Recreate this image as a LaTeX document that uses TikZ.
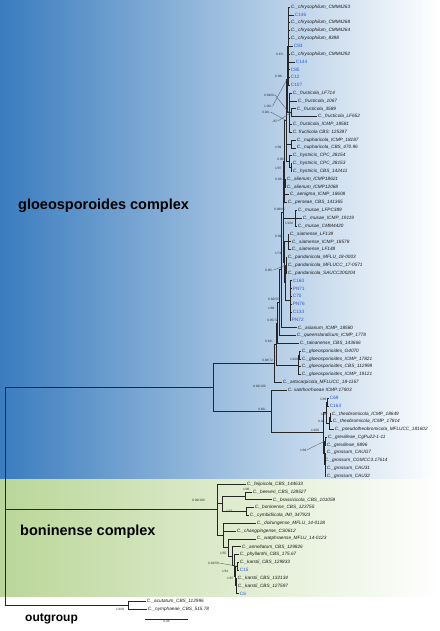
\documentclass[tikz,border=0pt]{standalone}
\usepackage{fontspec}
\setmainfont{Liberation Sans}
\usetikzlibrary{calc}
\definecolor{bluebg}{RGB}{58,124,190}
\definecolor{greenbg}{RGB}{186,214,152}
\definecolor{bluelab}{RGB}{40,90,205}
\newcommand\lf[4]{\node[#4] (l#1) at (#2,{7+7.82*(#1-1)}) {#3};}
\newcommand\inode[4]{\path let \p1=($(#3)!0.5!(#4)$) in coordinate (#1) at (#2pt,\y1);}
\newcommand\tbr[2]{\draw[branch] (#1) |- (#2);}
\newcommand\spt[4]{\node[supp] (#1) at (#2,#3) {#4};}
\begin{document}
\begin{tikzpicture}[x=1pt,y=-1pt,
  lab/.style={anchor=west,inner sep=0.7pt,font=\fontsize{4.7}{5}\selectfont\itshape,text=black!90},
  blab/.style={anchor=west,inner sep=0.7pt,font=\fontsize{4.7}{5}\selectfont,text=bluelab},
  supp/.style={anchor=west,inner sep=0pt,font=\fontsize{3.2}{3.5}\selectfont,text=black!80},
  branch/.style={line width=0.45pt,draw=black!85},
  lead/.style={line width=0.3pt,draw=black!70},
  cplx/.style={anchor=west,inner sep=0pt,font=\fontsize{14.5}{16}\selectfont\bfseries}]
\useasboundingbox (0,0) rectangle (439,631);
\shade[left color=bluebg,right color=white] (0,0) rectangle (439,479);
\shade[left color=greenbg,right color=white] (0,479) rectangle (439,596);
% leaves
\lf{1}{290}{C.\_chrysophilum\_CMM4263}{lab}
\lf{2}{294}{C146}{blab}
\lf{3}{290}{C.\_chrysophilum\_CMM4268}{lab}
\lf{4}{290}{C.\_chrysophilum\_CMM4264}{lab}
\lf{5}{290}{C.\_chrysophilum\_8398}{lab}
\lf{6}{293}{C83}{blab}
\lf{7}{290}{C.\_chrysophilum\_CMM4292}{lab}
\lf{8}{295}{C144}{blab}
\lf{9}{290}{C85}{blab}
\lf{10}{290}{C12}{blab}
\lf{11}{290}{C107}{blab}
\lf{12}{292}{C.\_fructicola\_LF714}{lab}
\lf{13}{297}{C.\_fructicola\_1067}{lab}
\lf{14}{296}{C.\_fructicola\_3589}{lab}
\lf{15}{317}{C.\_fructicola\_LF652}{lab}
\lf{16}{292}{C.\_fructicola\_ICMP\_18581}{lab}
\lf{17}{292}{C. fructicola CBS: 125397}{lab}
\lf{18}{296}{C.\_nupharicola\_ICMP\_18187}{lab}
\lf{19}{296}{C.\_nupharicola\_CBS\_470.96}{lab}
\lf{20}{292}{C.\_hystricis\_CPC\_28154}{lab}
\lf{21}{292}{C.\_hystricis\_CPC\_28153}{lab}
\lf{22}{292}{C.\_hystricis\_CBS\_142411}{lab}
\lf{23}{286}{C.\_alienum\_ICMP18621}{lab}
\lf{24}{286}{C.\_alienum\_ICMP12068}{lab}
\lf{25}{289}{C.\_aenigma\_ICMP\_18608}{lab}
\lf{26}{287}{C.\_perseae\_CBS\_141365}{lab}
\lf{27}{297}{C.\_musae\_LFPC389}{lab}
\lf{28}{302}{C.\_musae\_ICMP\_19119}{lab}
\lf{29}{297}{C.\_musae\_CMM4420}{lab}
\lf{30}{289}{C.\_siamense\_LF139}{lab}
\lf{31}{291}{C.\_siamense\_ICMP\_18578}{lab}
\lf{32}{291}{C.\_siamense\_LF148}{lab}
\lf{33}{287}{C.\_pandanicola\_MFLU\_18-0003}{lab}
\lf{34}{287}{C.\_pandanicola\_MFLUCC\_17-0571}{lab}
\lf{35}{287}{C.\_pandanicola\_SAUCC200204}{lab}
\lf{36}{292}{C160}{blab}
\lf{37}{292}{PN71}{blab}
\lf{38}{292}{C70}{blab}
\lf{39}{292}{PN76}{blab}
\lf{40}{292}{C133}{blab}
\lf{41}{291}{PN72}{blab}
\lf{42}{297}{C.\_asianum\_ICMP\_18580}{lab}
\lf{43}{296}{C.\_queenslandicum\_ICMP\_1778}{lab}
\lf{44}{299}{C.\_tainanense\_CBS\_143666}{lab}
\lf{45}{301}{C.\_gloeosporioides\_G4070}{lab}
\lf{46}{301}{C.\_gloeosporioides\_ICMP\_17821}{lab}
\lf{47}{301}{C.\_gloeosporioides\_CBS\_112999}{lab}
\lf{48}{301}{C.\_gloeosporioides\_ICMP\_19121}{lab}
\lf{49}{282}{C.\_artocarpicola\_MFLUCC\_18-1167}{lab}
\lf{50}{287}{C. xanthorrhoeae ICMP:17903}{lab}
\lf{51}{329}{C69}{blab}
\lf{52}{329}{C163}{blab}
\lf{53}{331}{C.\_theobromicola\_ICMP\_18649}{lab}
\lf{54}{332}{C.\_theobromicola\_ICMP\_17814}{lab}
\lf{55}{334}{C.\_pseudotheobromicola\_MFLUCC\_181602}{lab}
\lf{56}{327}{C.\_grevilleae\_CgPu22-1-11}{lab}
\lf{57}{326}{C.\_grevilleae\_9896}{lab}
\lf{58}{326}{C.\_grossum\_CAUG7}{lab}
\lf{59}{324}{C.\_grossum\_CGMCC3.17614}{lab}
\lf{60}{326}{C.\_grossum\_CAU31}{lab}
\lf{61}{326}{C.\_grossum\_CAU32}{lab}
\lf{62}{246}{C.\_feijoicola\_CBS\_144633}{lab}
\lf{63}{252}{C.\_beeveri\_CBS\_128527}{lab}
\lf{64}{272}{C.\_brassicicola\_CBS\_101059}{lab}
\lf{65}{254}{C.\_boninense\_CBS\_123755}{lab}
\lf{66}{249}{C.\_cymbidiicola\_IMI\_347923}{lab}
\lf{67}{256}{C.\_doitungense\_MFLU\_14-0128}{lab}
\lf{68}{236}{C.\_changpingense\_CS0612}{lab}
\lf{69}{256}{C.\_watphraense\_MFLU\_14-0123}{lab}
\lf{70}{241}{C.\_annellatum\_CBS\_129826}{lab}
\lf{71}{239}{C.\_phyllanthi\_CBS\_175.67}{lab}
\lf{72}{239}{C.\_karstii\_CBS\_129833}{lab}
\lf{73}{239}{C15}{blab}
\lf{74}{237}{C.\_karstii\_CBS\_132134}{lab}
\lf{75}{237}{C.\_karstii\_CBS\_127597}{lab}
\lf{76}{239}{C6}{blab}
\lf{77}{146}{C.\_acutatum\_CBS\_112996}{lab}
\lf{78}{147}{C.\_nymphaeae\_CBS\_515.78}{lab}
% internal nodes
\inode{nA}{288}{l1}{l11}
\inode{nF1}{291}{l14}{l15}
\inode{nF}{289}{l12}{l17}
\inode{nAF}{287}{nA}{nF}
\inode{nN}{291}{l18}{l19}
\inode{nH1}{291}{l21}{l22}
\inode{nH}{289}{l20}{nH1}
\inode{nU1}{286}{nAF}{nH}
\inode{nAl}{285}{l23}{l24}
\inode{nU2}{284}{nU1}{l26}
\inode{nM}{295}{l27}{l29}
\inode{nS}{288}{l30}{l32}
\inode{nP}{286}{l33}{l35}
\inode{nBl}{290}{l36}{l41}
\inode{nPB}{285}{nP}{nBl}
\inode{nSP}{284}{nS}{nPB}
\inode{nU3}{283}{nU2}{nSP}
\inode{nU4}{281}{nU3}{l42}
\inode{nU5}{279}{nU4}{l43}
\inode{nU6}{277}{nU5}{l44}
\inode{nG2}{299}{l45}{l46}
\inode{nG}{298}{nG2}{l48}
\inode{nU7}{276}{nU6}{nG}
\inode{nU8}{274}{nU7}{l49}
\inode{nT1}{327}{l51}{l52}
\inode{nT2}{330}{l53}{l54}
\inode{nT2b}{329}{nT2}{l55}
\inode{nT3}{326}{nT1}{nT2b}
\inode{nT4}{325}{l56}{l57}
\inode{nT5}{325}{l58}{l61}
\inode{nGG}{324}{nT4}{nT5}
\inode{nT}{323}{nT3}{nGG}
\inode{nX}{271}{l50}{nT}
\inode{nGl}{213}{nU8}{nX}
\inode{nBb}{245}{l63}{l64}
\inode{nBc}{246}{l65}{l66}
\inode{nB1}{222}{nBb}{nBc}
\inode{nK1}{237}{l72}{l73}
\inode{nK2}{236}{l74}{l76}
\inode{nK}{235}{nK1}{nK2}
\inode{nK3}{234}{l71}{nK}
\inode{nK4}{232}{l70}{nK3}
\inode{nK5}{228}{l69}{nK4}
\inode{nB2}{223}{l67}{nK5}
\inode{nBo}{217}{l62}{nB2}
\inode{nOut}{128}{l77}{l78}
\inode{nR}{5}{nGl}{nOut}
% branches
\foreach \i in {1,...,11} {\tbr{nA}{l\i.west}}
\tbr{nF1}{l14.west}\tbr{nF1}{l15.west}
\tbr{nF}{l12.west}\tbr{nF}{l13.west}\tbr{nF}{nF1}\tbr{nF}{l16.west}\tbr{nF}{l17.west}
\tbr{nAF}{nA}\tbr{nAF}{nF}
\tbr{nN}{l18.west}\tbr{nN}{l19.west}
\tbr{nH1}{l21.west}\tbr{nH1}{l22.west}
\tbr{nH}{l20.west}\tbr{nH}{nH1}
\tbr{nU1}{nAF}\tbr{nU1}{nN}\tbr{nU1}{nH}
\tbr{nAl}{l23.west}\tbr{nAl}{l24.west}
\tbr{nU2}{nU1}\tbr{nU2}{nAl}\tbr{nU2}{l25.west}\tbr{nU2}{l26.west}
\foreach \i in {27,28,29} {\tbr{nM}{l\i.west}}
\foreach \i in {30,31,32} {\tbr{nS}{l\i.west}}
\foreach \i in {33,34,35} {\tbr{nP}{l\i.west}}
\foreach \i in {36,...,41} {\tbr{nBl}{l\i.west}}
\tbr{nPB}{nP}\tbr{nPB}{nBl}
\tbr{nSP}{nS}\tbr{nSP}{nPB}
\tbr{nU3}{nU2}\tbr{nU3}{nM}\tbr{nU3}{nSP}
\tbr{nU4}{nU3}\tbr{nU4}{l42.west}
\tbr{nU5}{nU4}\tbr{nU5}{l43.west}
\tbr{nU6}{nU5}\tbr{nU6}{l44.west}
\tbr{nG2}{l45.west}\tbr{nG2}{l46.west}
\tbr{nG}{nG2}\tbr{nG}{l47.west}\tbr{nG}{l48.west}
\tbr{nU7}{nU6}\tbr{nU7}{nG}
\tbr{nU8}{nU7}\tbr{nU8}{l49.west}
\tbr{nT1}{l51.west}\tbr{nT1}{l52.west}
\tbr{nT2}{l53.west}\tbr{nT2}{l54.west}
\tbr{nT2b}{nT2}\tbr{nT2b}{l55.west}
\tbr{nT3}{nT1}\tbr{nT3}{nT2b}
\tbr{nT4}{l56.west}\tbr{nT4}{l57.west}
\foreach \i in {58,...,61} {\tbr{nT5}{l\i.west}}
\tbr{nGG}{nT4}\tbr{nGG}{nT5}
\tbr{nT}{nT3}\tbr{nT}{nGG}
\tbr{nX}{l50.west}\tbr{nX}{nT}
\tbr{nGl}{nU8}\tbr{nGl}{nX}
\tbr{nBb}{l63.west}\tbr{nBb}{l64.west}
\tbr{nBc}{l65.west}\tbr{nBc}{l66.west}
\tbr{nB1}{nBb}\tbr{nB1}{nBc}
\tbr{nK1}{l72.west}\tbr{nK1}{l73.west}
\foreach \i in {74,75,76} {\tbr{nK2}{l\i.west}}
\tbr{nK}{nK1}\tbr{nK}{nK2}
\tbr{nK3}{l71.west}\tbr{nK3}{nK}
\tbr{nK4}{l70.west}\tbr{nK4}{nK3}
\tbr{nK5}{l69.west}\tbr{nK5}{nK4}
\tbr{nB2}{l67.west}\tbr{nB2}{l68.west}\tbr{nB2}{nK5}
\tbr{nBo}{l62.west}\tbr{nBo}{nB1}\tbr{nBo}{nB2}
\tbr{nOut}{l77.west}\tbr{nOut}{l78.west}
\tbr{nR}{nGl}\tbr{nR}{nBo}\tbr{nR}{nOut}
% supports
\spt{s1}{276}{54}{0.87/-}
\spt{s2}{275}{76}{0.96/-}
\spt{s3}{264}{95}{0.99/61}
\spt{s4}{264}{106}{1.00/-}
\spt{s5}{262}{112}{0.92/-}
\spt{s6}{272}{121}{-/67}
\spt{s7}{275}{147}{1/99}
\spt{s8}{277}{159}{0.95/-}
\spt{s9}{275}{168}{1/97}
\spt{s10}{275}{179}{0.93/-}
\spt{s11}{274}{209}{0.98/65}
\spt{s12}{285}{223}{1/100}
\spt{s13}{275}{236}{0.99/-}
\spt{s14}{275}{253}{1/74}
\spt{s15}{265}{270}{0.95/-}
\spt{s16}{268}{299}{0.86/55}
\spt{s17}{268}{308}{1/88}
\spt{s18}{267}{320}{0.95/72}
\spt{s19}{265}{341}{0.63/-}
\spt{s20}{290}{359}{1/100}
\spt{s21}{262}{360}{0.98/72}
\spt{s22}{253}{386}{0.99/100}
\spt{s23}{258}{409}{0.66/-}
\spt{s24}{320}{399}{1/93}
\spt{s25}{321}{414}{1/99}
\spt{s26}{318}{421}{0.9/-}
\spt{s27}{311}{430}{1/100}
\spt{s28}{300}{450}{1/94}
\spt{s29}{192}{500}{0.99/100}
\spt{s30}{243}{489}{1/96}
\spt{s31}{226}{511}{1/72}
\spt{s32}{220}{553}{1/55}
\spt{s33}{208}{563}{0.82/50}
\spt{s34}{222}{571}{1/61}
\spt{s35}{227}{578}{1/87}
\spt{s36}{116}{609}{1/100}
% leader lines
\draw[lead] (s3.east) -- (nF);
\draw[lead] (s4.east) -- (nAF);
\draw[lead] (s5.east) -- (nU1);
\draw[lead] (s6.east) -- (nF1);
\draw[lead] (s15.east) -- (nP);
\draw[lead] (s28.east) -- (nT4);
\draw[lead] (s33.east) -- (nK1);
% scale bar
\coordinate (sbA) at (145,619);
\coordinate (sbB) at (188,619);
\draw[branch] (sbA) -- (sbB);
\node[supp,anchor=north] (sbl) at ($(sbA)!0.5!(sbB)+(0,1.5)$) {0.04};
% group labels
\node[cplx] (gloeo) at (18,206) {gloeosporoides complex};
\node[cplx] (bonin) at (20,532) {boninense complex};
\node[cplx,font=\fontsize{12}{14}\selectfont\bfseries] (outg) at (25,619) {outgroup};
\end{tikzpicture}
\end{document}
